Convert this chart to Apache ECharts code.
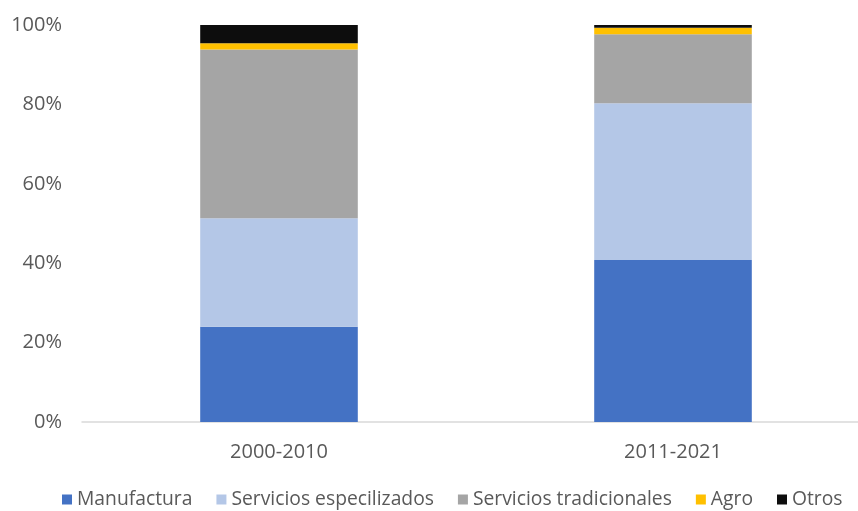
<!DOCTYPE html>
<html>
<head>
<meta charset="utf-8">
<script src="https://cdn.jsdelivr.net/npm/echarts@6/dist/echarts.min.js"></script>
<style>
  html, body { margin: 0; padding: 0; background: #ffffff; }
  #chart { width: 858px; height: 511px; }
</style>
</head>
<body>
<div id="chart"></div>
<script>
// Periods on the x axis
const periods = ['2000-2010', '2011-2021'];

// Share of each sector (percent of total) per period
const manufactura = [24.0, 40.8];
const serviciosEspecializados = [27.3, 39.5];
const serviciosTradicionales = [42.5, 17.4];
const agro = [1.6, 1.6];
const otros = [4.6, 0.7];

// Y axis ticks
const yTicks = [0, 20, 40, 60, 80, 100];

const seriesDefs = [
  { name: 'Manufactura', data: manufactura, color: '#4472C4' },
  { name: 'Servicios especilizados', data: serviciosEspecializados, color: '#B4C7E7' },
  { name: 'Servicios tradicionales', data: serviciosTradicionales, color: '#A5A5A5' },
  { name: 'Agro', data: agro, color: '#FFC000' },
  { name: 'Otros', data: otros, color: '#0D0D0D' }
];

const textColor = '#595959';
const fontFamily = '"Open Sans", sans-serif';

const chart = echarts.init(document.getElementById('chart'), null, { renderer: 'canvas' });

chart.setOption({
  animation: false,
  backgroundColor: '#ffffff',
  textStyle: { fontFamily: fontFamily },
  grid: {
    left: 82, top: 25, width: 788, bottom: 89,
    containLabel: false,
    outerBoundsMode: 'none'
  },
  legend: {
    left: 62,
    top: 490,
    width: 900,
    padding: 0,
    itemWidth: 10,
    itemHeight: 10,
    itemGap: 24,
    icon: 'rect',
    textStyle: { color: textColor, fontSize: 19.3, fontFamily: fontFamily },
    data: seriesDefs.map(s => s.name)
  },
  xAxis: {
    type: 'category',
    data: periods,
    axisLine: { show: true, lineStyle: { color: '#D9D9D9', width: 1.5 } },
    axisTick: { show: false },
    axisLabel: { color: textColor, fontSize: 20, margin: 20, fontFamily: fontFamily },
    splitLine: { show: false }
  },
  yAxis: {
    type: 'value',
    min: yTicks[0],
    max: yTicks[yTicks.length - 1],
    interval: 20,
    axisLine: { show: false },
    axisTick: { show: false },
    splitLine: { show: false },
    axisLabel: {
      color: textColor,
      fontSize: 20,
      margin: 20,
      fontFamily: fontFamily,
      formatter: v => v + '%'
    }
  },
  series: seriesDefs.map(s => ({
    name: s.name,
    type: 'bar',
    stack: 'total',
    barWidth: '40%',
    data: s.data,
    itemStyle: { color: s.color },
    emphasis: { disabled: true }
  }))
});
</script>
</body>
</html>
